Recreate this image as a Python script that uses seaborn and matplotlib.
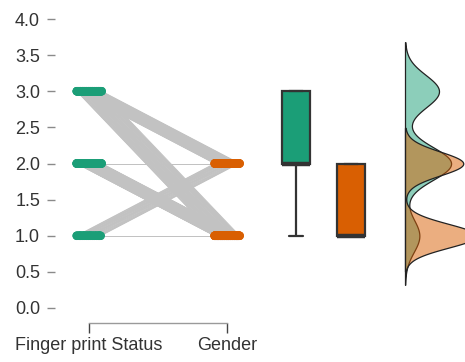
import numpy as np
import pandas as pd
import matplotlib
matplotlib.use("Agg")
import matplotlib.pyplot as plt
import seaborn as sns
from matplotlib.collections import LineCollection

sns.set_theme(style="white")
plt.rcParams["font.family"] = ["Liberation Sans", "DejaVu Sans"]

# ---- data -------------------------------------------------------------
fingerprint_levels = [1, 2, 3]
gender_levels = [1, 2]
# participants per (fingerprint status, gender) combination
pair_counts = [[13, 25],
               [80, 42],
               [45, 45]]
variable_names = ["Finger print Status", "Gender"]
palette = ["#1b9e77", "#d95f02"]
y_ticks = [0.0, 0.5, 1.0, 1.5, 2.0, 2.5, 3.0, 3.5, 4.0]

rows = []
for i, f in enumerate(fingerprint_levels):
    for j, g in enumerate(gender_levels):
        rows += [(f, g)] * pair_counts[i][j]
subjects = pd.DataFrame(rows, columns=variable_names)

# Deterministic horizontal spread: each participant keeps the same offset
# at both ends, so the connecting lines run as parallel bands.
half = 0.092
pair_rank = subjects.groupby(variable_names).cumcount().to_numpy()
frac = (pair_rank * 0.6180339887 + 0.31) % 1.0
offset = (frac * 2 - 1) * half
x0 = 0 + offset
x1 = 1 + offset

long = pd.DataFrame({
    "variable": np.repeat(variable_names, len(subjects)),
    "value": np.concatenate([subjects[variable_names[0]].to_numpy(),
                             subjects[variable_names[1]].to_numpy()]),
    "xpos": np.concatenate([x0, x1]),
})

# ---- figure -------------------------------------------------------------
W, H = 465, 362
fig = plt.figure(figsize=(W / 100, H / 100), dpi=100)
y_bot, y_top = 308, 19          # pixel rows of y = 0 and y = 4


def axes_px(left, right):
    return fig.add_axes([left / W, (H - y_bot) / H,
                         (right - left) / W, (y_bot - y_top) / H])


tick_col = "#333333"
fs = 13

# paired points and connecting lines
ax1 = axes_px(55, 260)
ax1.set_facecolor("none")
segs = [[(a, f), (b, g)] for a, b, f, g in
        zip(x0, x1, subjects[variable_names[0]], subjects[variable_names[1]])]
ax1.add_collection(LineCollection(segs, colors="#c2c2c2", linewidths=0.7,
                                  zorder=1))
sns.scatterplot(data=long, x="xpos", y="value", hue="variable",
                hue_order=variable_names, palette=palette, s=38,
                linewidth=0, legend=False, ax=ax1, zorder=3)
ax1.set_xlim(-34 / 138, -34 / 138 + 205 / 138)
ax1.set_ylim(0, 4)
ax1.set_yticks(y_ticks, [f"{v:.1f}" for v in y_ticks])
ax1.set_xticks([0, 1], variable_names)
ax1.set_xlabel("")
ax1.set_ylabel("")
for s in ["left", "top", "right"]:
    ax1.spines[s].set_visible(False)
ax1.spines["bottom"].set_position(("outward", 15 * 0.72))
ax1.spines["bottom"].set_bounds(0, 1)
ax1.spines["bottom"].set_color("#9a9a9a")
ax1.spines["bottom"].set_linewidth(1.0)
ax1.tick_params(axis="y", direction="out", length=8 * 0.72, width=1.0,
                color="#8a8a8a", pad=5, labelsize=fs, labelcolor=tick_col,
                left=True)
ax1.tick_params(axis="x", direction="out", length=10 * 0.72, width=1.0,
                color="#444444", pad=3, labelsize=fs, labelcolor=tick_col,
                bottom=True)

# box plots
ax2 = axes_px(262, 390)
ax2.set_facecolor("none")
sns.boxplot(data=long, x="variable", y="value", hue="variable",
            order=variable_names, hue_order=variable_names, palette=palette,
            width=0.51, linecolor="#333333", linewidth=1.6, saturation=1,
            showfliers=False, whis=1.5, legend=False,
            medianprops={"linewidth": 3.2}, ax=ax2)
ax2.set_xlim(-34 / 55, -34 / 55 + 128 / 55)
ax2.set_ylim(0, 4)
ax2.set_axis_off()

# densities
ax3 = axes_px(404, 465)
ax3.set_facecolor("none")
for name, col in zip(variable_names, palette):
    sns.kdeplot(y=subjects[name], fill=True, color=col, alpha=0.5,
                bw_method=0.33, cut=3, edgecolor="#222222", linewidth=0.9,
                ax=ax3)
ax3.set_xlim(-1 / 53.6, -1 / 53.6 + 61 / 53.6)
ax3.set_ylim(0, 4)
ax3.set_axis_off()

fig.savefig("out.png", dpi=100)
